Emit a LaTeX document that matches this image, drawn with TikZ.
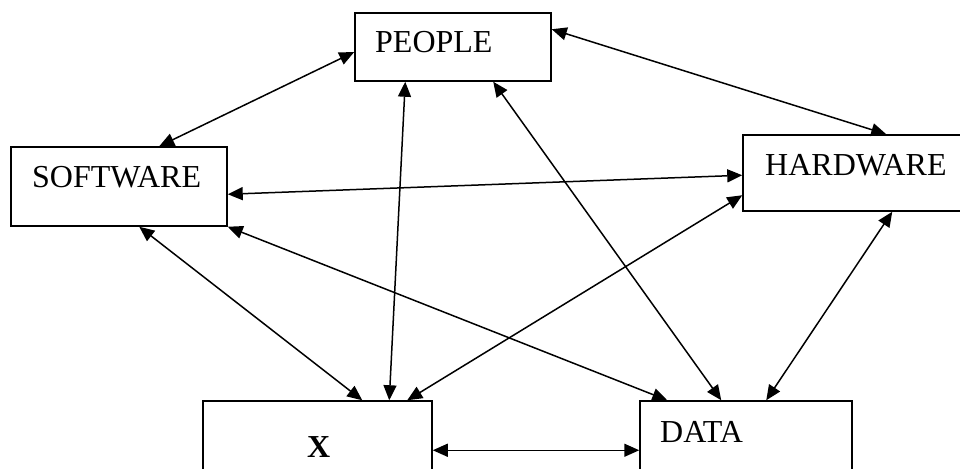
\documentclass[tikz,border=0pt]{standalone}
\usepackage{fontspec}
\setmainfont{Liberation Serif}
\usetikzlibrary{arrows.meta,calc}
\begin{document}
\begin{tikzpicture}[x={(1pt,0)},y={(0,-1pt)},
  box/.style={draw,line width=1.5pt,rectangle,inner sep=0pt},
  lbl/.style={anchor=base west,inner sep=0pt,font=\fontsize{32}{38}\selectfont},
  conn/.style={line width=1.5pt,{Triangle[length=15pt,width=13pt]}-{Triangle[length=15pt,width=13pt]}}]
\useasboundingbox (0,0) rectangle (960,468);
\clip (0,0) rectangle (960,468);
\node[box,minimum width=196pt,minimum height=68pt] (people) at (453,47) {};
\node[box,minimum width=216pt,minimum height=79pt] (software) at (119,186.5) {};
\node[box,minimum width=237pt,minimum height=76pt] (hardware) at (861.5,173) {};
\node[box,minimum width=229pt,minimum height=99pt] (xbox) at (317.5,450.5) {};
\node[box,minimum width=212pt,minimum height=99pt] (data) at (746,450.5) {};
\node[lbl] (tpeople) at (375,53) {PEOPLE};
\node[lbl] (tsoftware) at (32,187) {SOFTWARE};
\node[lbl] (thardware) at (765,175) {HARDWARE};
\node[lbl,font=\fontsize{32}{38}\selectfont\bfseries] (tx) at (307,457) {X};
\node[lbl] (tdata) at (660,442) {DATA};
\draw[conn] ($(people.west)+(0,5)$) -- ($(software.north west)+(149,0)$);
\draw[conn] ($(people.north east)+(0,17)$) -- ($(hardware.north west)+(144,0)$);
\draw[conn] ($(people.south west)+(51,0)$) -- ($(xbox.north west)+(187,0)$);
\draw[conn] ($(people.south west)+(139,0)$) -- ($(data.north west)+(82,0)$);
\draw[conn] ($(software.north east)+(0,48)$) -- ($(hardware.north west)+(0,41)$);
\draw[conn] ($(software.south west)+(129,0)$) -- ($(xbox.north west)+(160,0)$);
\draw[conn] (software.south east) -- ($(data.north west)+(28,0)$);
\draw[conn] ($(hardware.north west)+(0,61)$) -- ($(xbox.north west)+(205,0)$);
\draw[conn] ($(hardware.south west)+(150,0)$) -- ($(data.north west)+(127,0)$);
\draw[conn] ($(xbox.north east)+(0,50)$) -- ($(data.north west)+(0,50)$);
\end{tikzpicture}
\end{document}
